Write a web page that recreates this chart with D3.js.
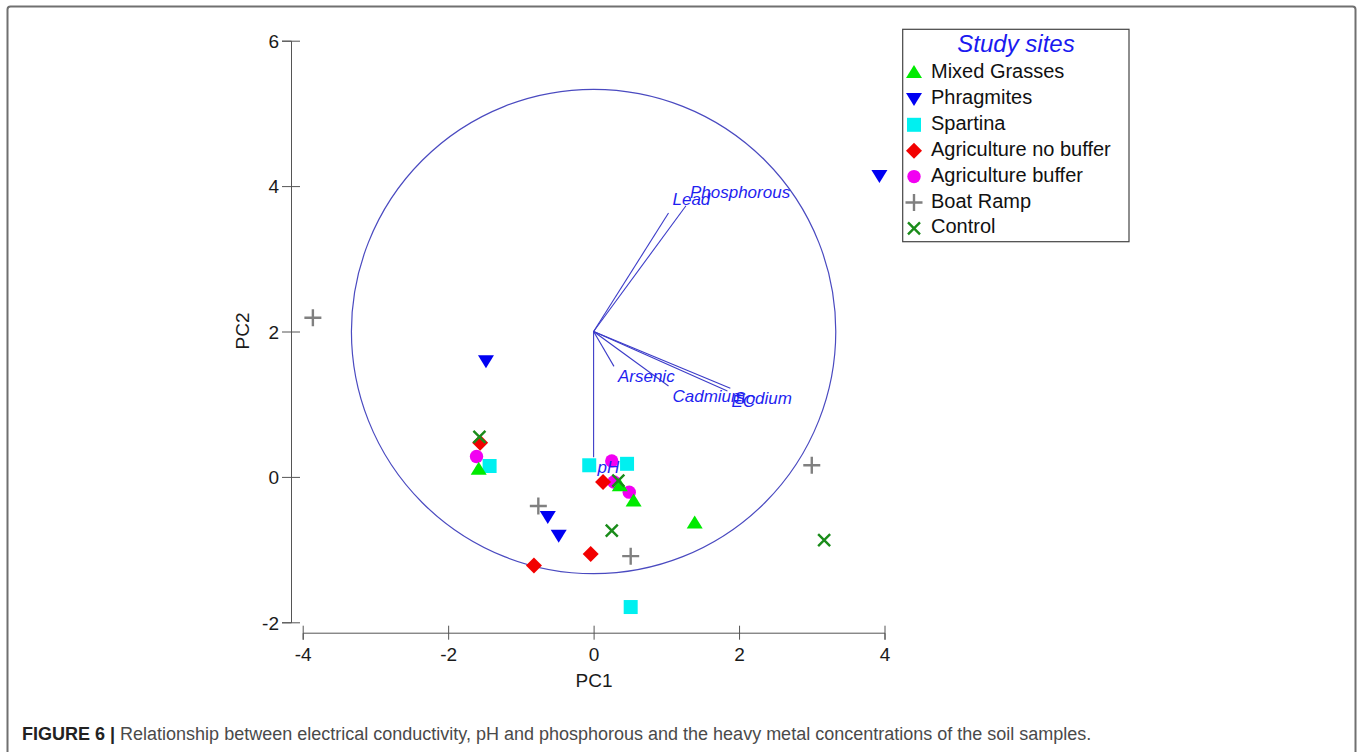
<!DOCTYPE html>
<html>
<head>
<meta charset="utf-8">
<script src="https://cdn.jsdelivr.net/npm/d3@7"></script>
<style>
  body { margin: 0; background: #fff; }
  svg { display: block; font-family: "Liberation Sans", Arial, sans-serif; }
</style>
</head>
<body>
<svg width="1362" height="752"></svg>
<script>
// site scores [PC1, PC2]
const mixedGrasses = [[-1.58, 0.10], [0.36, -0.13], [0.55, -0.34], [1.39, -0.64]];
const phragmites = [[-1.48, 1.59], [-0.63, -0.55], [-0.48, -0.81], [3.93, 4.14]];
const spartina = [[-1.43, 0.15], [-0.06, 0.16], [0.46, 0.18], [0.51, -1.79]];
const agNoBuffer = [[-1.56, 0.47], [0.13, -0.07], [-0.04, -1.06], [-0.82, -1.22]];
const agBuffer = [[-1.61, 0.28], [0.25, 0.22], [0.28, -0.07], [0.49, -0.21]];
const boatRamp = [[-3.86, 2.19], [-0.76, -0.40], [0.51, -1.09], [3.00, 0.16]];
const control = [[-1.57, 0.55], [0.34, -0.05], [0.25, -0.74], [3.17, -0.87]];

// environmental vectors (tips), drawn from the joint plot centre
const vectorNames = ["Lead", "Phosphorous", "Arsenic", "Cadmium", "Sodium", "EC", "pH"];
const vectorTips = [[1.03, 3.63], [1.27, 3.73], [0.28, 1.52], [1.03, 1.25], [1.88, 1.22], [1.84, 1.18], [0, 0.27]];
const vectorOrigin = [0, 2];
const circleRadius = 3.33;

const xTicks = [-4, -2, 0, 2, 4];
const yTicks = [-2, 0, 2, 4, 6];

const groups = [
  { name: "Mixed Grasses", data: mixedGrasses, shape: "up", color: "#00ea00" },
  { name: "Phragmites", data: phragmites, shape: "down", color: "#0000f2" },
  { name: "Spartina", data: spartina, shape: "square", color: "#00f0f0" },
  { name: "Agriculture no buffer", data: agNoBuffer, shape: "diamond", color: "#f20000" },
  { name: "Agriculture buffer", data: agBuffer, shape: "circle", color: "#f200f2" },
  { name: "Boat Ramp", data: boatRamp, shape: "plus", color: "#808080" },
  { name: "Control", data: control, shape: "cross", color: "#1a8c1a" }
];
// draw order (last on top)
const drawOrder = [4, 2, 3, 0, 1, 5, 6];

const svg = d3.select("svg");

const x = d3.scaleLinear().domain([-4, 4]).range([302.7, 884.5]);
const y = d3.scaleLinear().domain([-2, 6]).range([622.3, 40.7]);

// page frame
svg.append("rect")
  .attr("x", 7.5).attr("y", 6.5)
  .attr("width", 1348).attr("height", 780)
  .attr("rx", 3)
  .attr("fill", "none")
  .attr("stroke", "#707070")
  .attr("stroke-width", 2);

function markerPath(shape) {
  switch (shape) {
    case "up": return "M0,-8L8,5L-8,5Z";
    case "down": return "M0,7L8,-6L-8,-6Z";
    case "square": return "M-7,-7H7V7H-7Z";
    case "diamond": return "M0,-8L8,0L0,8L-8,0Z";
    case "circle": return "M6.7,0A6.7,6.7 0 1,1 -6.7,0A6.7,6.7 0 1,1 6.7,0Z";
    case "plus": return "M-8.5,0H8.5M0,-8.5V8.5";
    case "cross": return "M-6,-6L6,6M-6,6L6,-6";
  }
}
function drawMarker(sel, g) {
  const stroked = g.shape === "plus" || g.shape === "cross";
  sel.attr("d", markerPath(g.shape))
    .attr("fill", stroked ? "none" : g.color)
    .attr("stroke", stroked ? g.color : "none")
    .attr("stroke-width", stroked ? 2.4 : 0);
}

// axes (plain hyphen minus like the original)
const fmt = function(d) { return String(d); };
const yAxis = svg.append("g")
  .attr("transform", "translate(291,0)")
  .call(d3.axisLeft(y).tickValues(yTicks).tickFormat(fmt).tickSize(9).tickPadding(3));
yAxis.selectAll(".tick line").attr("x1", 9);
const xAxis = svg.append("g")
  .attr("transform", "translate(0,632.7)")
  .call(d3.axisBottom(x).tickValues(xTicks).tickFormat(fmt).tickSize(7).tickPadding(8));
xAxis.selectAll(".tick line").attr("y1", -7);
[yAxis, xAxis].forEach(function(a) {
  a.select(".domain").attr("stroke", "#555");
  a.selectAll(".tick line").attr("stroke", "#555");
  a.selectAll(".tick text")
    .attr("fill", "#1a1a1a")
    .style("font-size", "19px")
    .style("font-family", "\"Liberation Sans\", Arial, sans-serif");
});
yAxis.selectAll(".tick text").attr("dy", "0.36em");

svg.append("text")
  .attr("x", 594).attr("y", 687)
  .attr("text-anchor", "middle")
  .attr("fill", "#1a1a1a")
  .style("font-size", "19px")
  .text("PC1");
svg.append("text")
  .attr("transform", "translate(249,331) rotate(-90)")
  .attr("text-anchor", "middle")
  .attr("fill", "#1a1a1a")
  .style("font-size", "19px")
  .text("PC2");

// correlation circle
svg.append("circle")
  .attr("cx", x(vectorOrigin[0]))
  .attr("cy", y(vectorOrigin[1]))
  .attr("r", x(circleRadius) - x(0))
  .attr("fill", "none")
  .attr("stroke", "#4a4ac0")
  .attr("stroke-width", 1.2);

// site points
drawOrder.forEach(function(i) {
  const g = groups[i];
  svg.append("g").selectAll("path")
    .data(g.data)
    .enter().append("path")
      .attr("transform", function(d) { return "translate(" + x(d[0]) + "," + y(d[1]) + ")"; })
      .call(drawMarker, g);
});

// vectors
const vec = svg.append("g");
vec.selectAll("line")
  .data(vectorTips)
  .enter().append("line")
    .attr("x1", x(vectorOrigin[0]))
    .attr("y1", y(vectorOrigin[1]))
    .attr("x2", function(d) { return x(d[0]); })
    .attr("y2", function(d) { return y(d[1]); })
    .attr("stroke", "#3b3bc8")
    .attr("stroke-width", 1.1);
vec.selectAll("text")
  .data(vectorTips)
  .enter().append("text")
    .attr("x", function(d) { return x(d[0]) + 4; })
    .attr("y", function(d) { return y(d[1]) + (d[1] > vectorOrigin[1] ? -8 : 16); })
    .attr("fill", "#1f1ff0")
    .style("font-size", "17px")
    .style("font-style", "italic")
    .text(function(d, i) { return vectorNames[i]; });

// legend
const legend = svg.append("g");
legend.append("rect")
  .attr("x", 902.7).attr("y", 29.3)
  .attr("width", 226.3).attr("height", 212.4)
  .attr("fill", "#fff")
  .attr("stroke", "#444")
  .attr("stroke-width", 1.2);
legend.append("text")
  .attr("x", 1016).attr("y", 51.5)
  .attr("text-anchor", "middle")
  .attr("fill", "#1a1af0")
  .style("font-size", "24px")
  .style("font-style", "italic")
  .text("Study sites");
const rows = legend.selectAll("g.row")
  .data(groups)
  .enter().append("g")
    .attr("class", "row")
    .attr("transform", function(d, i) { return "translate(914," + (73 + i * 25.9) + ")"; });
rows.append("path").each(function(g) { d3.select(this).call(drawMarker, g); });
rows.append("text")
  .attr("x", 17).attr("y", 5)
  .attr("fill", "#111")
  .style("font-size", "20px")
  .text(function(d) { return d.name; });

// caption
const cap = svg.append("text")
  .attr("x", 22).attr("y", 740)
  .style("font-size", "18px")
  .attr("fill", "#4a4a4a");
cap.append("tspan").attr("font-weight", "bold").attr("fill", "#222").text("FIGURE 6 | ");
cap.append("tspan").text("Relationship between electrical conductivity, pH and phosphorous and the heavy metal concentrations of the soil samples.");
</script>
</body>
</html>
